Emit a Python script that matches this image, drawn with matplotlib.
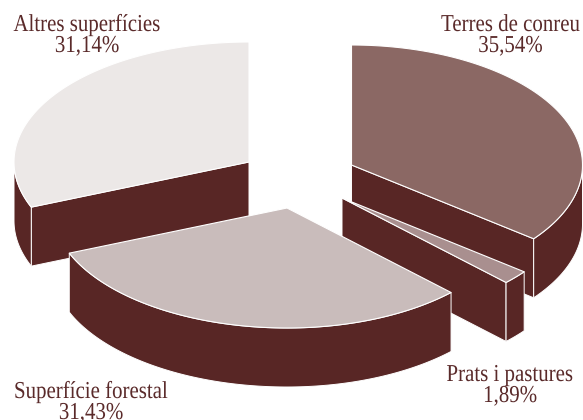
import numpy as np
import matplotlib
matplotlib.use('Agg')
import matplotlib.pyplot as plt
from matplotlib.patches import Polygon
from matplotlib.patheffects import AbstractPathEffect
from matplotlib.transforms import Affine2D

labels = ['Terres de conreu', 'Prats i pastures', 'Superfície forestal', 'Altres superfícies']
values = [35.54, 1.89, 31.43, 31.14]
value_labels = ['35,54%', '1,89%', '31,43%', '31,14%']
colors = ['#8B6864', '#A98F8F', '#C9BCBB', '#ECE8E7']

# apex of each exploded slice, in pixels
apex = [(351.5, 165), (342, 198), (287, 208), (249, 162)]
label_pos = [(510.5, 31), (510, 381), (91, 398), (87, 31)]
draw_order = [3, 0, 1, 2]

wall_color = '#582625'
text_color = '#5A2A2A'
rx_right, rx_left, ry, depth = 231, 235, 120, 59


class Narrow(AbstractPathEffect):
    # the original uses a condensed serif, squeeze the glyphs around the text centre
    def __init__(self, cx, sx):
        super().__init__()
        self.squeeze = Affine2D().translate(-cx, 0).scale(sx, 1).translate(cx, 0)

    def draw_path(self, renderer, gc, tpath, affine, rgbFace=None):
        renderer.draw_path(gc, tpath, affine + self.squeeze, rgbFace)


def rim(center, a0, a1):
    t = np.radians(np.linspace(a0, a1, max(int(abs(a1 - a0)), 2) + 1))
    s = np.sin(t)
    return np.column_stack([center[0] + np.where(s > 0, rx_right, rx_left) * s,
                            center[1] - ry * np.cos(t)])


def wall(ax, top):
    bottom = top[::-1] + [0, depth]
    ax.add_patch(Polygon(np.vstack([top, bottom]), fc=wall_color, ec='white', lw=0.7, joinstyle='round'))


fig = plt.figure(figsize=(5.83, 4.2), dpi=100)
ax = fig.add_axes([0, 0, 1, 1])
ax.set_xlim(0, 583)
ax.set_ylim(420, 0)
ax.axis('off')

edges = np.concatenate([[0], np.cumsum(values)]) / sum(values) * 360

for i in draw_order:
    a0, a1 = edges[i], edges[i + 1]
    c = np.array(apex[i])
    # radial side walls that face the viewer
    if a0 > 180:
        wall(ax, np.array([c, rim(c, a0, a0 + 1)[0]]))
    if a1 < 180:
        wall(ax, np.array([c, rim(c, a1, a1 + 1)[0]]))
    # outer wall, only the front half of the ellipse shows
    lo, hi = max(a0, 90), min(a1, 270)
    if hi > lo:
        wall(ax, rim(c, lo, hi))
    top = np.vstack([c, rim(c, a0, a1)])
    ax.add_patch(Polygon(top, fc=colors[i], ec='white', lw=0.8, joinstyle='round'))

for name, val, (x, y) in zip(labels, value_labels, label_pos):
    for s, yy in ((name, y), (val, y + 21)):
        t = ax.text(x, yy, s, ha='center', va='baseline', fontsize=17.5, color=text_color,
                    family='Liberation Serif')
        t.set_path_effects([Narrow(x, 0.86)])

fig.savefig('out.png', dpi=100)
